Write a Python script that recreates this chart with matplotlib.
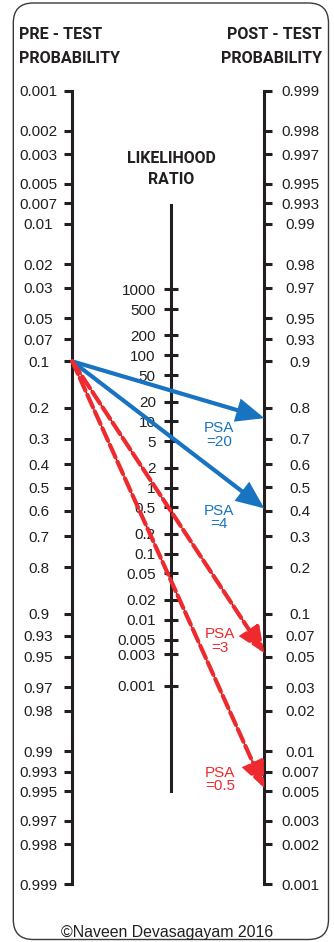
import matplotlib
matplotlib.use('Agg')
import matplotlib.pyplot as plt
from matplotlib.ticker import NullLocator, FixedLocator, FixedFormatter
from matplotlib.patches import FancyBboxPatch, ArrowStyle

plt.rcParams['font.family'] = ['Liberation Sans', 'DejaVu Sans']

# ---------------- data ----------------
pre_ticks = [0.001, 0.002, 0.003, 0.005, 0.007, 0.01, 0.02, 0.03, 0.05, 0.07, 0.1,
             0.2, 0.3, 0.4, 0.5, 0.6, 0.7, 0.8, 0.9, 0.93, 0.95, 0.97, 0.98,
             0.99, 0.993, 0.995, 0.997, 0.998, 0.999]
post_ticks = pre_ticks[::-1]
lr_ticks = [1000, 500, 200, 100, 50, 20, 10, 5, 2, 1, 0.5, 0.2, 0.1, 0.05,
            0.02, 0.01, 0.005, 0.003, 0.001]
pretest = 0.1
psa_labels = ['PSA\n=20', 'PSA\n=4', 'PSA\n=3', 'PSA\n=0.5']
posttest = [0.77, 0.41, 0.053, 0.0053]
psa_colors = ['#1874c1', '#1874c1', '#ee2a2e', '#ee2a2e']
psa_dashed = [False, False, True, True]

# ---------------- style ----------------
W, H = 334, 942
INK = '#231f20'
AX_LW = 2.2
fig = plt.figure(figsize=(W / 100, H / 100), dpi=100)
fig.patch.set_facecolor('white')

def fxy(px, py):
    return px / W, 1 - py / H

# rounded frame
frame = FancyBboxPatch((13.3 / 100, (H - 939.5) / 100), (328.5 - 13.3) / 100, (939.5 - 3) / 100,
                       boxstyle='round,pad=0,rounding_size=0.2',
                       transform=fig.dpi_scale_trans, fill=False,
                       edgecolor='#3a3a3a', linewidth=1.0)
fig.add_artist(frame)

# left (pre-test) axis
ax = fig.add_axes([72.3 / W, 1 - 884 / H, 192 / W, 793 / H])
ax.patch.set_visible(False)
ax.set_yscale('logit')
ax.set_ylim(pre_ticks[-1], pre_ticks[0])
ax.set_xlim(0, 1)
ax.set_xticks([])
for s in ['top', 'right', 'bottom']:
    ax.spines[s].set_visible(False)
ax.spines['left'].set_linewidth(AX_LW)
ax.spines['left'].set_color(INK)
ax.spines['left'].set_bounds(pre_ticks[0], pre_ticks[-1])
ax.spines['left'].set_capstyle('projecting')
ax.yaxis.set_major_locator(FixedLocator(pre_ticks))
ax.yaxis.set_major_formatter(FixedFormatter(['{:g}'.format(v) for v in pre_ticks]))
ax.yaxis.set_minor_locator(NullLocator())
ax.tick_params(axis='y', direction='out', length=5.8, width=AX_LW, pad=18.5,
               labelsize=11, colors=INK)
plt.setp(ax.get_yticklabels(), ha='center')

# right (post-test) axis
axr = ax.twinx()
axr.set_yscale('logit')
axr.set_ylim(post_ticks[-1], post_ticks[0])
for s in ['top', 'left', 'bottom']:
    axr.spines[s].set_visible(False)
axr.spines['right'].set_linewidth(AX_LW)
axr.spines['right'].set_color(INK)
axr.spines['right'].set_bounds(post_ticks[-1], post_ticks[0])
axr.spines['right'].set_capstyle('projecting')
axr.yaxis.set_major_locator(FixedLocator(post_ticks))
axr.yaxis.set_major_formatter(FixedFormatter(['{:g}'.format(v) for v in post_ticks]))
axr.yaxis.set_minor_locator(NullLocator())
axr.tick_params(axis='y', direction='out', length=5.8, width=AX_LW, pad=19.9,
                labelsize=11, colors=INK)
plt.setp(axr.get_yticklabels(), ha='center')

# middle (likelihood ratio) axis
odds_span = (pre_ticks[-1] / pre_ticks[0]) ** 2
axm = ax.twinx()
axm.set_yscale('log')
axm.set_ylim(1 / odds_span, odds_span)
for s in ['top', 'right', 'bottom']:
    axm.spines[s].set_visible(False)
axm.spines['left'].set_visible(True)
axm.spines['left'].set_position(('axes', 0.513))
axm.spines['left'].set_linewidth(AX_LW)
axm.spines['left'].set_color(INK)
axm.spines['left'].set_bounds(2.6e-5, 1.9e4)
axm.yaxis.set_ticks_position('left')
axm.yaxis.set_label_position('left')
axm.yaxis.set_major_locator(FixedLocator(lr_ticks))
axm.yaxis.set_major_formatter(FixedFormatter(['{:g}'.format(v) for v in lr_ticks]))
axm.yaxis.set_minor_locator(NullLocator())
axm.tick_params(axis='y', direction='inout', length=10, width=AX_LW, pad=5.8,
                labelsize=11, colors=INK)

# arrows
label_pos = [(219, 435), (219, 517.5), (220, 641), (220, 779.5)]
for post, lab, col, dashed, (lx, ly) in zip(posttest, psa_labels, psa_colors, psa_dashed, label_pos):
    if dashed:
        axm.annotate('', xy=(1, post), xycoords=axr.transData,
                     xytext=(0, pretest), textcoords=ax.transData,
                     arrowprops=dict(arrowstyle='-', color='black', lw=0.7,
                                     shrinkA=0, shrinkB=13))
        style = (0, (3.3, 1.1))
        lw = 3.0
    else:
        style = '-'
        lw = 3.0
    axm.annotate('', xy=(1, post), xycoords=axr.transData,
                 xytext=(0, pretest), textcoords=ax.transData,
                 arrowprops=dict(arrowstyle=ArrowStyle('-|>', head_length=0.75, head_width=0.32),
                                 mutation_scale=20, color=col, lw=lw, linestyle=style,
                                 shrinkA=0, shrinkB=0, joinstyle='miter'))
    fig.text(*fxy(lx, ly), lab, ha='center', va='center', color=col,
             fontsize=11, linespacing=0.95)

# headers
HFAM = ['Roboto', 'Liberation Sans']
for txt, x, y, ha, fs in [('PRE - TEST', 19, 39, 'left', 11.6), ('PROBABILITY', 19, 63, 'left', 11.6),
                          ('POST - TEST', 322, 39, 'right', 11.6), ('PROBABILITY', 322, 63, 'right', 11.6),
                          ('LIKELIHOOD', 171, 163.3, 'center', 11.4), ('RATIO', 171, 184.3, 'center', 11.4)]:
    fig.text(*fxy(x, y), txt, ha=ha, va='baseline', fontweight='bold',
             fontsize=fs, family=HFAM, color=INK)

fig.text(*fxy(167.5, 937), '\u00a9Naveen Devasagayam 2016', ha='center', va='baseline',
         fontsize=11.4, color=INK)

fig.savefig('out.png', dpi=100)
